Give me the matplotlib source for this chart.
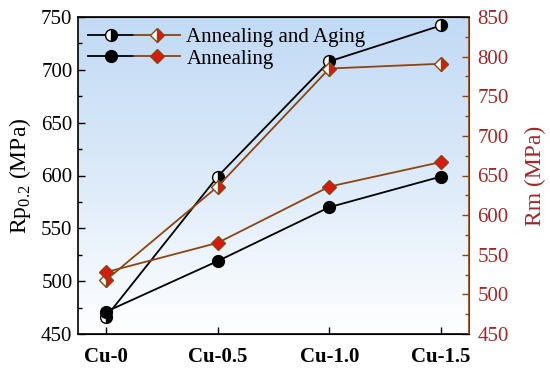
import numpy as np
import matplotlib
matplotlib.use("Agg")
import matplotlib.pyplot as plt
from matplotlib.legend_handler import HandlerTuple
from matplotlib.colors import LinearSegmentedColormap

plt.rcParams['font.family'] = ['Liberation Serif', 'DejaVu Serif']
plt.rcParams['mathtext.fontset'] = 'custom'
plt.rcParams['mathtext.rm'] = 'Liberation Serif'

categories = ["Cu-0", "Cu-0.5", "Cu-1.0", "Cu-1.5"]
rp_aging = [466, 599, 708, 742]
rp_anneal = [471, 519, 570, 599]
rm_aging = [518, 636, 785, 791]
rm_anneal = [528, 565, 636, 667]
series_labels = ["Annealing and Aging", "Annealing"]

brown = '#8B4513'
red_fill = '#d81a10'
right_text = '#a0282a'

fig = plt.figure(figsize=(5.5, 3.73), dpi=100)
ax = fig.add_axes([78/550, 1-334/373, (469-78)/550, (334-17)/373])
ax2 = ax.twinx()

# gradient background
cmap = LinearSegmentedColormap.from_list('bg', ['#ffffff', '#dceaf9', '#c2daf5'])
grad = np.linspace(0, 1, 256).reshape(-1, 1)
ax.imshow(grad, cmap=cmap, aspect='auto', extent=[-0.25, 3.25, 450, 750],
          origin='lower', zorder=0)

x = np.arange(len(categories))
l1, = ax.plot(x, rp_aging, '-', color='black', lw=1.3, marker='o', ms=8.5,
              fillstyle='right', markerfacecolor='black', markerfacecoloralt='white',
              markeredgecolor='black', zorder=3)
l2, = ax.plot(x, rp_anneal, '-', color='black', lw=1.3, marker='o', ms=8.5,
              markerfacecolor='black', markeredgecolor='black', zorder=3)
l3, = ax2.plot(x, rm_aging, '-', color=brown, lw=1.3, marker='D', ms=7,
               fillstyle='right', markerfacecolor=red_fill, markerfacecoloralt='white',
               markeredgecolor=brown, zorder=3)
l4, = ax2.plot(x, rm_anneal, '-', color=brown, lw=1.3, marker='D', ms=7,
               markerfacecolor=red_fill, markeredgecolor=brown, zorder=3)

ax.set_xlim(-0.25, 3.25)
ax.set_ylim(450, 750)
ax2.set_ylim(450, 850)
ax.set_yticks(np.arange(450, 751, 50))
ax.set_yticks(np.arange(450, 751, 25), minor=True)
ax2.set_yticks(np.arange(450, 851, 50))
ax2.set_yticks(np.arange(450, 851, 25), minor=True)
ax.set_xticks(x)
ax.set_xticklabels(categories, fontsize=15, fontweight='bold')

ax.tick_params(axis='y', direction='in', length=5, width=1, labelsize=15, pad=4)
ax.tick_params(axis='y', which='minor', direction='in', length=3, width=1)
ax.tick_params(axis='x', direction='in', length=5, width=1, pad=9)
ax2.tick_params(axis='y', direction='in', length=5, width=1, labelsize=15,
                colors=brown, labelcolor=right_text, pad=6)
ax2.tick_params(axis='y', which='minor', direction='in', length=3, width=1, colors=brown)

for s in ['left', 'top', 'bottom']:
    ax.spines[s].set_linewidth(1.2)
ax2.spines['right'].set_color(brown)
ax2.spines['right'].set_linewidth(1.2)
ax2.spines['left'].set_visible(False)

ax.set_ylabel('Rp$_{0.2}$ (MPa)', fontsize=17, labelpad=6)
ax2.set_ylabel('Rm (MPa)', fontsize=17, color=right_text, labelpad=12)

ax.legend([(l1, l3), (l2, l4)], series_labels,
          handler_map={tuple: HandlerTuple(ndivide=None, pad=0.0)},
          loc='upper left', frameon=False, fontsize=15, handlelength=4.4,
          borderaxespad=0.1, handletextpad=0.3, labelspacing=0.1,
          bbox_to_anchor=(0.0, 1.0))
ax2.set_zorder(ax.get_zorder() + 1)
ax2.patch.set_visible(False)

fig.savefig('out.png', dpi=100)
